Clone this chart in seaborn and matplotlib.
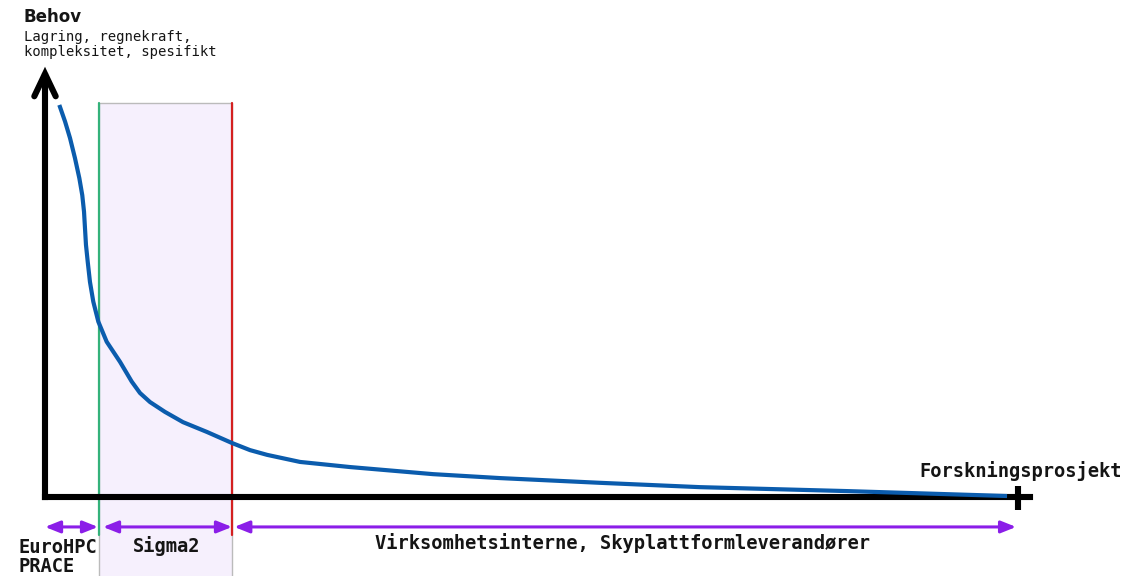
import matplotlib
matplotlib.use("Agg")
import matplotlib.pyplot as plt
import seaborn as sns
import pandas as pd

# ---- data (x: 0..100 along the horizontal axis, y: 0..100 "Behov") ----
curve_x = [1.47, 2.06, 2.57, 3.08, 3.53, 3.83, 4.01, 4.11, 4.21, 4.39, 4.62, 4.96,
           5.48, 6.34, 7.71, 8.91, 9.76, 10.79, 12.33, 14.18, 16.65, 19.22, 21.07,
           22.82, 26.21, 31.35, 39.88, 46.76, 57.04, 67.32, 82.43, 98.87]
curve_y = [99.5, 95.3, 91.1, 86.0, 80.9, 76.6, 72.4, 68.2, 64.0, 59.7, 54.6, 49.6,
           44.5, 39.4, 34.3, 29.3, 26.4, 24.1, 21.6, 19.0, 16.5, 13.7, 11.9,
           10.7, 8.9, 7.6, 5.8, 4.8, 3.6, 2.5, 1.5, 0.25]

boundaries = [5.55, 19.22]          # EuroHPC | Sigma2 | others
segments = [(0.0, 5.45), (5.96, 19.22), (19.45, 99.8)]
segment_labels = ["EuroHPC\nPRACE", "Sigma2", "Virksomhetsinterne, Skyplattformleverandører"]
y_title = "Behov"
y_subtitle = "Lagring, regnekraft,\nkompleksitet, spesifikt"
x_title = "Forskningsprosjekt"

# colours
c_curve = "#0b5cad"
c_green = "#34b27a"
c_red = "#d42020"
c_purple = "#8b1ee8"
c_shade = "#f6f0fd"
c_text = "#151515"

sns.set_theme(style="white")
plt.rcParams["font.family"] = ["DejaVu Sans Mono", "DejaVu Sans"]

fig = plt.figure(figsize=(11.28, 5.76), dpi=100)
ax = fig.add_axes([0, 0, 1, 1])
ax.set_xlim(-4.625, 111.3)
ax.set_ylim(-20.05, 126.14)
ax.axis("off")

# shaded Sigma2 band
ax.fill_between(boundaries, -21, 100, facecolor=c_shade, edgecolor="#bbbbbb",
                linewidth=1.0, zorder=1)
ax.plot([boundaries[0]] * 2, [-9.6, 100], color=c_green, lw=1.6, zorder=3)
ax.plot([boundaries[1]] * 2, [-9.6, 100], color=c_red, lw=1.6, zorder=3)

# axes
ax.plot([0, 0], [0, 106.9], color="black", lw=4.4, solid_capstyle="projecting", zorder=4)
ax.plot([-1.1, 0, 1.1], [101.7, 107.4, 101.7], color="black", lw=4.4,
        solid_capstyle="round", solid_joinstyle="miter", zorder=4)
ax.plot([0, 101.2], [0, 0], color="black", lw=4.4, solid_capstyle="projecting", zorder=4)
ax.plot([100, 100], [2.8, -3.3], color="black", lw=4.4, solid_capstyle="butt", zorder=4)

# demand curve
df = pd.DataFrame({"x": curve_x, "y": curve_y})
sns.lineplot(data=df, x="x", y="y", ax=ax, color=c_curve, lw=3.0, sort=False,
             zorder=5, solid_capstyle="butt", solid_joinstyle="round")
ax.axis("off")

# segment arrows
for (a, b) in segments:
    ax.annotate("", xy=(b, -7.6), xytext=(a, -7.6),
                arrowprops=dict(arrowstyle="<|-|>,head_length=0.75,head_width=0.3",
                                lw=2.2, color=c_purple, shrinkA=0, shrinkB=0),
                zorder=6)

# texts
ax.text(-2.77, -15.2, segment_labels[0], ha="left", va="center", fontsize=13.5,
        fontweight="bold", color=c_text, linespacing=1.0)
ax.text(12.54, -12.4, segment_labels[1], ha="center", va="center", fontsize=13.5,
        fontweight="bold", color=c_text)
ax.text(59.4, -11.7, segment_labels[2], ha="center", va="center", fontsize=13.5,
        fontweight="bold", color=c_text)
ax.text(89.9, 6.6, x_title, ha="left", va="center", fontsize=13.5,
        fontweight="bold", color=c_text)
ax.text(-2.16, 121.8, y_title, ha="left", va="center", fontsize=12,
        fontweight="bold", color=c_text, family=["DejaVu Sans"])
ax.text(-2.16, 114.8, y_subtitle, ha="left", va="center", fontsize=10,
        color=c_text, linespacing=1.05)

fig.savefig("out.png", dpi=100)
